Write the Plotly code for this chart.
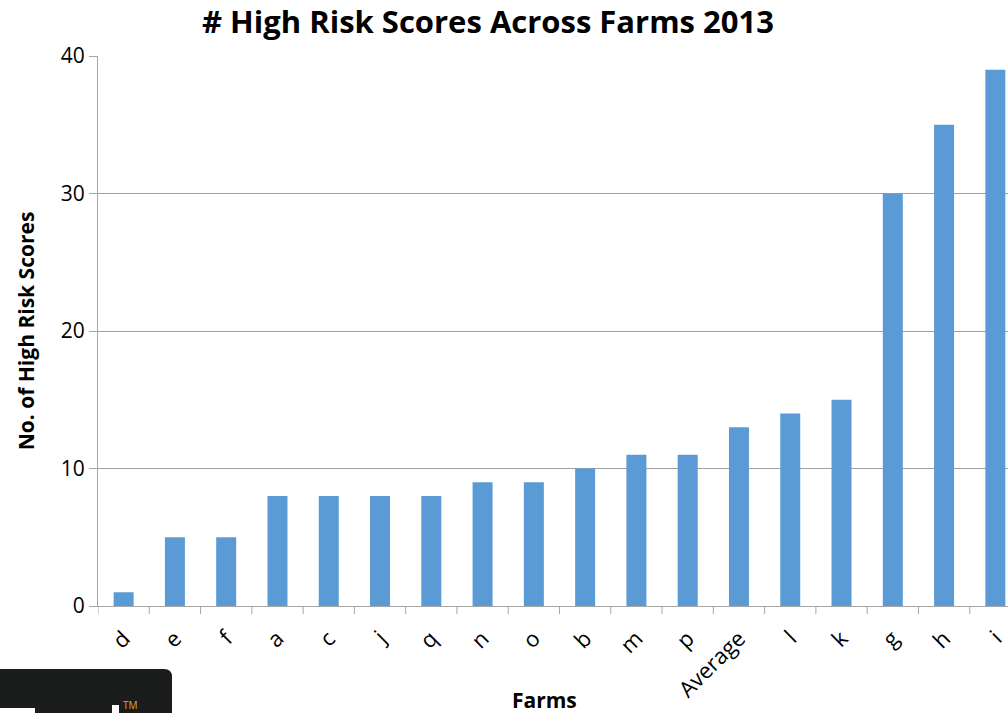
import plotly.graph_objects as go

# High risk score counts per farm, sorted ascending, with the farm average
farms = ["d", "e", "f", "a", "c", "j", "q", "n", "o", "b", "m", "p",
         "Average", "l", "k", "g", "h", "i"]
high_risk_scores = [1, 5, 5, 8, 8, 8, 8, 9, 9, 10, 11, 11, 13, 14, 15, 30, 35, 39]
y_ticks = [0, 10, 20, 30, 40]

W, H = 1008, 713
L, R, T, B = 98, 0, 56, 107
PW, PH = W - L - R, H - T - B
FONT = "'Open Sans', Lato, sans-serif"


def px(x):
    return (x - L) / PW


def py(y):
    return (H - B - y) / PH


fig = go.Figure(go.Bar(
    x=list(range(len(farms))),
    y=high_risk_scores,
    marker=dict(color="#5B9BD5", line=dict(width=0)),
    width=0.39,
))

fig.update_layout(
    width=W, height=H,
    margin=dict(l=L, r=R, t=T, b=B, pad=0),
    paper_bgcolor="white", plot_bgcolor="white",
    showlegend=False,
    font=dict(family=FONT, color="black"),
    title=dict(text="<b># High Risk Scores Across Farms 2013</b>",
               x=488 / W, xanchor="center", y=1 - 22 / H, yanchor="middle",
               font=dict(size=31, family=FONT, color="black")),
    xaxis=dict(
        tickmode="array", tickvals=list(range(len(farms))), ticktext=farms,
        tickangle=-45, tickfont=dict(size=22), ticklabelstandoff=10,
        range=[-0.5, 17.5 - 13 / 51.3],
        showgrid=False, showline=True, linecolor="#A6A6A6", linewidth=1,
        ticks="", zeroline=False,
    ),
    yaxis=dict(
        range=[0, 40], tickvals=y_ticks, tickfont=dict(size=21),
        showgrid=True, gridcolor="#A0A0A0", gridwidth=1,
        showline=True, linecolor="#A6A6A6", linewidth=1,
        ticks="outside", ticklen=8, tickcolor="#A6A6A6",
        zeroline=False,
        title=dict(text="<b>No. of High Risk Scores</b>", font=dict(size=21),
                   standoff=20),
    ),
)

fig.add_annotation(text="<b>Farms</b>", xref="paper", yref="paper",
                   x=px(544), y=py(700), xanchor="center", yanchor="middle",
                   showarrow=False, font=dict(size=21, family=FONT, color="black"))

# category boundary tick marks below the x axis
shapes = []
for k in range(len(farms)):
    xb = k - 0.5
    shapes.append(dict(type="line", xref="x", yref="paper",
                       x0=xb, x1=xb, y0=0, y1=py(614),
                       line=dict(color="#A6A6A6", width=1)))

# badge in the lower-left corner
shapes.append(dict(
    type="path", xref="paper", yref="paper",
    path=(f"M {px(0)} {py(669)} L {px(164)} {py(669)} "
          f"Q {px(172)} {py(669)} {px(172)} {py(677)} "
          f"L {px(172)} {py(720)} L {px(0)} {py(720)} Z"),
    fillcolor="#1B1C1C", line=dict(width=0), layer="above"))
shapes.append(dict(type="rect", xref="paper", yref="paper",
                   x0=px(0), x1=px(35), y0=py(720), y1=py(708),
                   fillcolor="white", line=dict(width=0), layer="above"))
shapes.append(dict(type="rect", xref="paper", yref="paper",
                   x0=px(112), x1=px(119), y0=py(720), y1=py(705),
                   fillcolor="white", line=dict(width=0), layer="above"))
fig.update_layout(shapes=shapes)

fig.add_annotation(text="TM", xref="paper", yref="paper",
                   x=px(121), y=py(705), xanchor="left", yanchor="middle",
                   showarrow=False, font=dict(size=10, color="#E0A526", family=FONT))

fig.write_html("out.html")
